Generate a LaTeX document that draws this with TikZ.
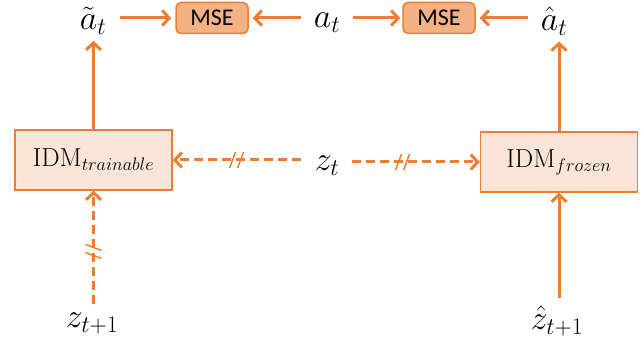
\RequirePackage{fix-cm}
\documentclass[tikz,border=0pt]{standalone}
\usepackage{fontspec}
\newfontfamily\msefont{Carlito}
\usetikzlibrary{arrows.meta}
\definecolor{org}{HTML}{ED7D31}
\definecolor{msefill}{HTML}{F4B183}
\definecolor{idmfill}{HTML}{FBE5D6}
\begin{document}
\begin{tikzpicture}[x=1pt,y=1pt,
  lbl/.style={inner sep=0pt, font=\fontsize{34}{40}\selectfont},
  msebox/.style={draw=org, fill=msefill, rounded corners=5pt, line width=1.5pt, minimum width=72pt, minimum height=31pt, inner sep=0pt, font=\msefont\fontsize{24}{28}\selectfont},
  idm/.style={draw=org, fill=idmfill, line width=1.5pt, minimum width=157pt, minimum height=60pt, font=\fontsize{26}{30}\selectfont},
  conn/.style={draw=org, line width=3pt, -{Straight Barb[length=7pt,width=15pt]}},
  dsh/.style={conn, dash pattern=on 9pt off 5pt},
  brk/.pic={\draw[org, line width=1.5pt, solid, arrows=-, shorten <=0pt, shorten >=0pt] (-7,-8) -- (-1,8) (1,-8) -- (7,8);}
]
\useasboundingbox (0,0) rectangle (644,339);
\node[lbl] (atil) at (93,318) {$\tilde{a}_t$};
\node[msebox] (mse1) at (212,321) {MSE};
\node[lbl] (a) at (327,316) {$a_t$};
\node[msebox] (mse2) at (439,321) {MSE};
\node[lbl] (ahat) at (554,318) {$\hat{a}_t$};
\node[idm] (idmt) at (93.5,179) {$\mathrm{IDM}_{trainable}$};
\node[idm] (idmf) at (559,177) {$\mathrm{IDM}_{frozen}$};
\node[lbl] (zt) at (327,173) {$z_t$};
\node[lbl] (ztp) at (92,16) {$z_{t+1}$};
\node[lbl] (zhat) at (557,18) {$\hat{z}_{t+1}$};

\draw[conn, shorten <=14pt, shorten >=4pt] (atil.east |- mse1) -- (mse1.west);
\draw[conn, shorten <=13pt, shorten >=4pt] (a.west |- mse1) -- (mse1.east);
\draw[conn, shorten <=13pt, shorten >=2pt] (a.east |- mse2) -- (mse2.west);
\draw[conn, shorten <=13pt, shorten >=4pt] (ahat.west |- mse2) -- (mse2.east);

\draw[conn, shorten >=6pt] (idmt.north) -- (idmt.north |- atil.south);
\draw[conn, shorten >=6pt] (idmf.north) -- (idmf.north |- ahat.south);

\draw[dsh, shorten <=14pt] (zt.west |- idmt) -- pic[pos=0.55, sloped]{brk} (idmt.east);
\draw[dsh, shorten <=13pt] (zt.east |- idmf) -- pic[pos=0.45, sloped]{brk} (idmf.west);

\draw[dsh, shorten <=8pt] (idmt.south |- ztp.north) -- pic[pos=0.5, sloped]{brk} (idmt.south);
\draw[conn, shorten <=8pt] (idmf.south |- zhat.north) -- (idmf.south);
\end{tikzpicture}
\end{document}
